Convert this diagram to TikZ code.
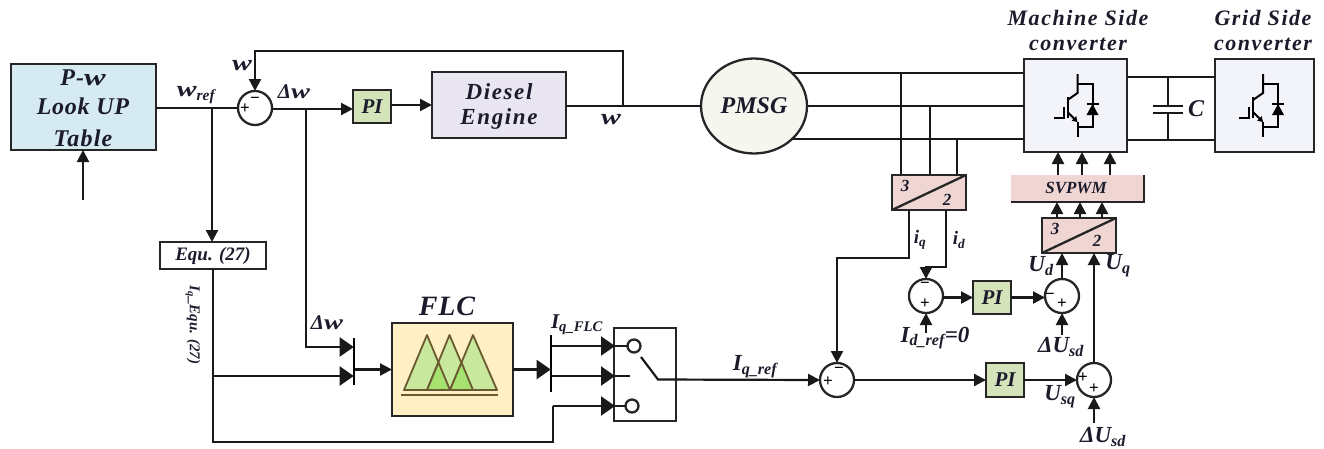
\documentclass[tikz,border=0pt]{standalone}
\usepackage{fontspec}
\setmainfont{Liberation Serif}
\usetikzlibrary{arrows.meta,calc,shapes.geometric}
\definecolor{ink}{HTML}{1B1B2B}
\definecolor{lutc}{HTML}{D6EAF2}
\definecolor{pigreen}{HTML}{D5E3BB}
\definecolor{diec}{HTML}{E9E6F2}
\definecolor{pmc}{HTML}{F5F6EE}
\definecolor{convc}{HTML}{F3F3FA}
\definecolor{pinkc}{HTML}{EFD6D3}
\definecolor{flcc}{HTML}{FEEFC5}
\definecolor{tric}{HTML}{C8E89E}
\definecolor{tridk}{HTML}{A5E270}
\definecolor{trie}{HTML}{6B5A30}
\newcommand{\wspace}{\addfontfeatures{LetterSpace=7}}
\newcommand{\widew}{\scalebox{1.35}[1]{w}}
\tikzset{
 wire/.style={line width=2.2pt,draw=black!90},
 arr/.style={wire,-{Triangle[length=12pt,width=12pt]}},
 muxarr/.style={wire,shorten >=-1pt,-{Triangle[length=14pt,width=19pt]}},
 box/.style={draw=black!85,line width=2.3pt,inner sep=0pt,outer sep=0pt},
 sumc/.style={box,circle,minimum size=34pt,fill=white},
 bar/.style={fill=black,inner sep=0pt,outer sep=0pt,minimum width=2.6pt},
 lab/.style={font=\fontsize{#1}{#1}\selectfont\bfseries\itshape,text=ink,inner sep=0pt,align=center},
 sign/.style={font=\fontsize{17}{17}\selectfont\bfseries,text=black,inner sep=0pt},
 pics/igbt/.style={code={
  \draw[line width=2pt] (0,74) -- (0,93) -- (-10,100);
  \draw[line width=2pt,-{Triangle[length=5pt,width=6pt]}] (-10,112) -- (0,122);
  \draw[line width=2pt] (0,122) -- (0,137);
  \draw[line width=2pt] (-10,97) -- (-10,118);
  \draw[line width=2pt] (-14,107) -- (-14,117.5) -- (-24,117.5);
  \draw[line width=2pt] (0,84) -- (15,84) -- (15,127) -- (0,127);
  \fill (9,115) -- (21,115) -- (15,104) -- cycle;
  \draw[line width=2pt] (9,104) -- (21,104);
 }}
}
\begin{document}
\begin{tikzpicture}[x=1pt,y=-1pt]
\useasboundingbox (0,0) rectangle (1324,448);
% phases (behind the machine)
\coordinate (ph1) at (780,73);
\coordinate (ph2) at (780,106);
\coordinate (ph3) at (780,139);
% blocks
\node[box,fill=lutc,minimum width=145pt,minimum height=86pt] (lut) at (83.5,107) {};
\node[sumc] (s1) at (255,108) {};
\node[box,fill=pigreen,minimum width=38pt,minimum height=33pt] (pi1) at (372,106.5) {};
\node[box,fill=diec,minimum width=134pt,minimum height=66pt] (die) at (499,105) {};
\node[box,fill=white,minimum width=106pt,minimum height=27pt] (eq) at (213,255.5) {};
\node[box,fill=flcc,minimum width=121pt,minimum height=93pt] (flc) at (452.5,369.5) {};
\node[bar,minimum height=47pt] (mx1) at (354,361.5) {};
\node[bar,minimum height=57pt] (mx2) at (551,363.5) {};
\node[box,minimum width=62pt,minimum height=93pt] (sw) at (645,374.5) {};
\node[sumc] (s2) at (837,380) {};
\node[box,fill=pigreen,minimum width=38pt,minimum height=34pt] (pi3) at (1005,380) {};
\node[sumc] (s4) at (1094,380) {};
\node[sumc] (s3) at (926,296) {};
\node[box,fill=pigreen,minimum width=38pt,minimum height=33pt] (pi2) at (992,297.5) {};
\node[sumc] (s5) at (1062,296) {};
\node[box,fill=pinkc,minimum width=74pt,minimum height=35pt] (c1) at (929,192.5) {};
\node[box,fill=pinkc,minimum width=74pt,minimum height=35pt] (c2) at (1079,235.5) {};
\node[fill=pinkc,inner sep=0pt,outer sep=0pt,minimum width=133pt,minimum height=27pt] (sv) at (1077.5,188.5) {};
\node[box,fill=convc,minimum width=103pt,minimum height=93pt] (msc) at (1075.5,105.5) {};
\node[box,fill=convc,minimum width=99pt,minimum height=93pt] (gsc) at (1264.5,105.5) {};
\draw[box] (c1.south west) -- (c1.north east);
\draw[box] (c2.south west) -- (c2.north east);
\draw[box] (sv.north east) -- (sv.south east) -- (sv.south west);
% free-end coordinates and junctions
\coordinate (lutin) at (83,200);
\coordinate (wj) at (212,108);
\coordinate (dj) at (306,109);
\coordinate (fbt1) at (255,51);
\coordinate (fbt2) at (623,51);
\coordinate (fbj) at (623,106);
\coordinate (eqj) at (213,376);
\coordinate (eqb) at (213,442);
\coordinate (lowb) at (553,442);
\coordinate (lowt) at (553,406);
% phases
\draw[wire] (ph1) -- (msc.west |- ph1);
\draw[wire] (ph2) -- (msc.west |- ph2);
\draw[wire] (ph3) -- (msc.west |- ph3);
\node[box,ellipse,fill=pmc,minimum width=106pt,minimum height=95pt] (pm) at (754,106) {};
% upper path
\draw[arr] (lutin) -- (lutin |- lut.south);
\draw[wire] (lut.east |- s1.west) -- (s1.west);
\draw[arr] (wj) -- (wj |- eq.north);
\draw[arr] (fbj) -- (fbt2) -- (fbt1) -- (s1.north);
\draw[arr] (s1.east |- dj) -- (pi1.west |- dj);
\draw[arr] (pi1.east |- die.west) -- (die.west);
\draw[wire] (die.east |- pm.west) -- (pm.west);
% FLC path
\draw[muxarr] (dj) -- (dj |- 0,347) -- (mx1.west |- 0,347);
\draw[wire] (eq.south) -- (eqb) -- (lowb) -- (lowt);
\draw[muxarr] (eqj) -- (mx1.west |- eqj);
\draw[arr] (mx1.east |- flc.west) -- (flc.west);
\draw[muxarr] (flc.east) -- (mx2.west |- flc.east);
\draw[muxarr] (mx2.east |- 0,346) -- (sw.west |- 0,346);
\draw[muxarr] (mx2.east |- 0,376) -- (sw.west |- 0,376);
\draw[muxarr] (lowt) -- (sw.west |- lowt);
% switch
\node[box,circle,minimum size=13pt,fill=white] (swa) at (634,346) {};
\node[box,circle,minimum size=13pt,fill=white] (swb) at (632,406) {};
\coordinate (swm) at (630,376);
\coordinate (swarm) at (641,357);
\coordinate (swp) at (658,379.5);
\draw[wire] (sw.west |- swa) -- (swa.west);
\draw[wire] (sw.west |- swb) -- (swb.west);
\draw[wire] (sw.west |- swm) -- (swm);
\draw[arr] (swarm) -- (swp) -- (s2.west);
% lower-right control
\draw[arr] (c1.south -| 909,0) -- (909,258) -- (837,258) -- (s2.north);
\draw[arr] (s2.east) -- (pi3.west);
\draw[arr] (pi3.east) -- (s4.west);
\draw[arr] (s4.north) -- (s4.north |- c2.south);
\draw[arr] (c1.south -| 946,0) -- (946,267) -- (926,267) -- (s3.north);
\draw[arr] (s3.east |- pi2.west) -- (pi2.west);
\draw[arr] (pi2.east) -- (s5.west |- pi2.east);
\draw[arr] (s5.north) -- (s5.north |- c2.south);
\coordinate (s3in) at (926,333);
\coordinate (s5in) at (1062,335);
\coordinate (s4in) at (1094,423);
\draw[arr] (s3in) -- (s3.south);
\draw[arr] (s5in) -- (s5.south);
\draw[arr] (s4in) -- (s4.south);
% converter arrows
\foreach \x in {1057,1080,1102} \draw[arr] (\x,218) -- (\x,202);
\foreach \x in {1058,1082,1110} \draw[arr] (\x,175) -- (\x,152);
\draw[wire] (901,73) -- (901,175);
\draw[wire] (930,106) -- (930,175);
\draw[wire] (957,139) -- (957,175);
% dc link
\draw[wire] (msc.east |- 0,77) -- (gsc.west |- 0,77);
\draw[wire] (msc.east |- 0,140) -- (gsc.west |- 0,140);
\draw[wire] (1168,77) -- (1168,106) (1168,113) -- (1168,140);
\draw[wire] (1153,106) -- (1183,106) (1153,113) -- (1183,113);
% igbt symbols
\pic at (1077.5,0) {igbt};
\pic at (1263,0) {igbt};
% fuzzy sets
\begin{scope}[line width=1.8pt,draw=trie,line join=round]
\filldraw[fill=tric] (404,390) -- (427,335) -- (450,390) -- cycle;
\filldraw[fill=tric] (427,390) -- (449.5,335) -- (473,390) -- cycle;
\filldraw[fill=tric] (450,390) -- (473,335) -- (497,390) -- cycle;
\filldraw[fill=tridk] (427,390) -- (438.5,362.5) -- (450,390) -- cycle;
\filldraw[fill=tridk] (450,390) -- (461.5,362.5) -- (473,390) -- cycle;
\draw (401,395) -- (498,395);
\end{scope}
% signs
\node[sign] (n1) at (245,109) {+};
\node[sign] (n2) at (255,100) {−};
\node[sign] (n3) at (839,370) {−};
\node[sign] (n4) at (828,382) {+};
\node[sign] (n5) at (925,285) {−};
\node[sign] (n6) at (925,304) {+};
\node[sign] (n7) at (1050,296) {−};
\node[sign] (n8) at (1062,304) {+};
\node[sign] (n9) at (1083,378) {+};
\node[sign] (n10) at (1094,389) {+};
% labels
\node[lab=24] (t1) at (83,78) {\addfontfeatures{LetterSpace=5}P-\widew};
\node[lab=24] (t2) at (83,106) {\addfontfeatures{LetterSpace=3}Look UP};
\node[lab=24] (t3) at (83,138) {\addfontfeatures{LetterSpace=5}Table};
\node[lab=22] (t4) at (196,95) {\widew\textsubscript{ref}};
\node[lab=22] (t5) at (242,66) {\widew};
\node[lab=21] (t6) at (294,92) {Δ\widew};
\node[lab=21] (t7) at (372,106.5) {PI};
\node[lab=23] (t8) at (499,92) {\wspace Diesel};
\node[lab=23] (t9) at (499,119) {\wspace Engine};
\node[lab=22] (t10) at (611,120) {\widew};
\node[lab=24] (t11) at (754,106) {PMSG};
\node[lab=22] (t12) at (1078,18) {\wspace Machine Side};
\node[lab=22] (t13) at (1078,44) {\wspace converter};
\node[lab=22] (t14) at (1263,18) {\wspace Grid Side};
\node[lab=22] (t15) at (1263,44) {\wspace converter};
\node[lab=24] (t16) at (1196,109) {C};
\node[lab=17] (t17) at (905,186) {3};
\node[lab=17] (t18) at (947,200) {2};
\node[lab=17] (t19) at (1055,229) {3};
\node[lab=17] (t20) at (1097,241) {2};
\node[lab=17] (t21) at (1076,188) {SVPWM};
\node[lab=19] (t22) at (920,240) {i\textsubscript{q}};
\node[lab=19] (t23) at (959,240) {i\textsubscript{d}};
\node[lab=23] (t24) at (1041,266) {U\textsubscript{d}};
\node[lab=23] (t25) at (1118,266) {U\textsubscript{q}};
\node[lab=23] (t26) at (935,338) {I\textsubscript{d\_ref}=0};
\node[lab=23] (t27) at (1061,347) {ΔU\textsubscript{sd}};
\node[lab=23] (t28) at (1060,397) {U\textsubscript{sq}};
\node[lab=23] (t29) at (1103,437) {ΔU\textsubscript{sd}};
\node[lab=21] (t30) at (1005,380) {PI};
\node[lab=21] (t31) at (992,297.5) {PI};
\node[lab=23] (t32) at (755,367) {I\textsubscript{q\_ref}};
\node[lab=21] (t33) at (577,325) {I\textsubscript{q\_FLC}};
\node[lab=28] (t34) at (447,306) {\addfontfeatures{LetterSpace=3}FLC};
\node[lab=21] (t35) at (327,323) {Δ\widew};
\node[lab=15,rotate=-90] (t36) at (193,325) {I\textsubscript{q}\_Equ. (27)};
\node[lab=19] (t37) at (213,255.5) {Equ. (27)};
\end{tikzpicture}
\end{document}
